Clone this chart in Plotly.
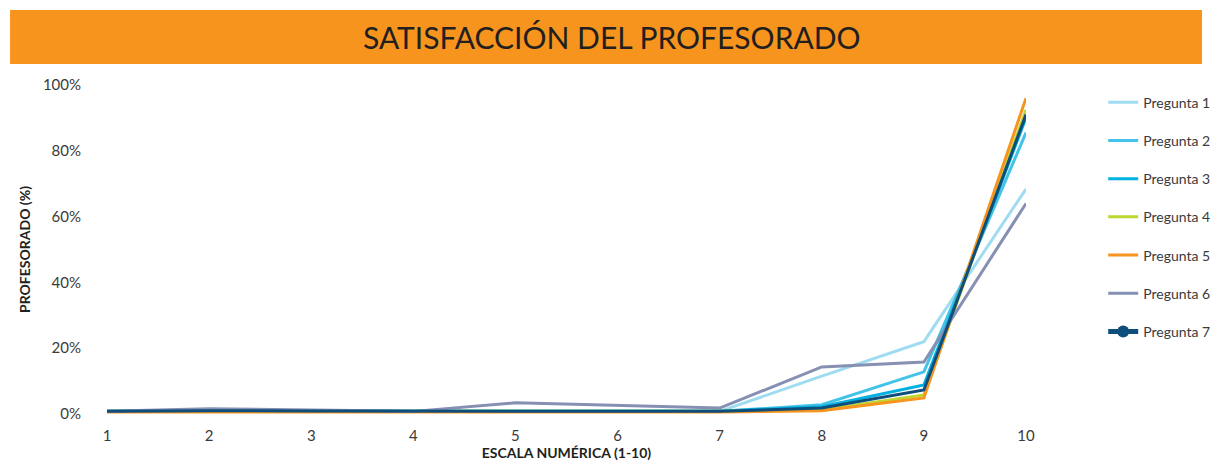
import plotly.graph_objects as go

escala = [1, 2, 3, 4, 5, 6, 7, 8, 9, 10]

pregunta_1 = [0.8, 0.8, 0.8, 0.8, 0.8, 0.8, 0.8, 11.5, 22.0, 68.4]
pregunta_2 = [0.8, 0.8, 0.8, 0.8, 0.8, 0.8, 0.8, 2.8, 12.8, 85.5]
pregunta_3 = [0.8, 0.8, 0.8, 0.8, 0.8, 0.8, 0.8, 2.2, 8.8, 90.0]
pregunta_4 = [0.8, 0.8, 0.8, 0.8, 0.8, 0.8, 0.8, 1.2, 5.8, 92.5]
pregunta_5 = [0.6, 0.6, 0.6, 0.6, 0.6, 0.6, 0.6, 1.0, 4.9, 96.0]
pregunta_6 = [0.8, 1.6, 1.2, 0.8, 3.4, 2.6, 1.8, 14.3, 15.8, 64.0]
pregunta_7 = [0.8, 1.0, 0.9, 0.8, 0.8, 0.8, 0.8, 1.8, 7.3, 91.0]

y_ticks = [0, 20, 40, 60, 80, 100]
y_labels = ["0%", "20%", "40%", "60%", "80%", "100%"]

nombres = ["Pregunta 1", "Pregunta 2", "Pregunta 3", "Pregunta 4",
           "Pregunta 5", "Pregunta 6", "Pregunta 7"]
series = [pregunta_1, pregunta_2, pregunta_3, pregunta_4,
          pregunta_5, pregunta_6, pregunta_7]
colores = ["#9fdcf1", "#43c3e8", "#00b1e1", "#bed630",
           "#f7941e", "#8590b2", "#0d4e7c"]

FONT = "Lato"
GRIS = "#3a3a3a"

fig = go.Figure()
for i, (nombre, vals, col) in enumerate(zip(nombres, series, colores)):
    ultimo = i == len(nombres) - 1
    fig.add_trace(go.Scatter(
        x=escala, y=vals, name=nombre, mode="lines",
        line=dict(color=col, width=3),
        legendgroup="g%d" % i, showlegend=not ultimo,
    ))
    if ultimo:
        # legend entry with the round marker, as in the original
        fig.add_trace(go.Scatter(
            x=[None], y=[None], name=nombre, mode="lines+markers",
            line=dict(color=col, width=5),
            marker=dict(color=col, size=12),
            legendgroup="g%d" % i, showlegend=True,
        ))

# orange title banner
fig.add_shape(type="rect", xref="paper", yref="paper",
              x0=-0.1055, x1=1.1915, y0=1.064, y1=1.228,
              fillcolor="#f7941e", line_width=0, layer="below")
fig.add_annotation(text="SATISFACCIÓN DEL PROFESORADO",
                   xref="paper", yref="paper", x=0.549, y=1.146,
                   showarrow=False, xanchor="center", yanchor="middle",
                   font=dict(family=FONT, size=30, color="#231f20"))

fig.update_layout(
    width=1216, height=464,
    margin=dict(l=107, r=190, t=85, b=50, autoexpand=False),
    paper_bgcolor="white", plot_bgcolor="white",
    font=dict(family=FONT, size=15, color=GRIS),
    legend=dict(x=1.084, y=0.995, xanchor="left", yanchor="top",
                tracegroupgap=17, font=dict(size=14, color=GRIS)),
    xaxis=dict(range=[1, 10], tickvals=escala, showgrid=False,
               zeroline=False, showline=False, automargin=False,
               ticks="outside", ticklen=8, tickcolor="rgba(0,0,0,0)",
               title=dict(text="<b>ESCALA NUMÉRICA (1-10)</b>",
                          font=dict(size=14, color="#231f20"), standoff=4)),
    yaxis=dict(range=[0, 100], tickvals=y_ticks, ticktext=y_labels,
               showgrid=False, zeroline=False, automargin=False,
               showline=False, ticks="outside", ticklen=22,
               tickcolor="rgba(0,0,0,0)",
               title=dict(text="<b>PROFESORADO (%)</b>",
                          font=dict(size=14, color="#231f20"), standoff=8)),
)

fig.write_html("out.html", config={"displayModeBar": False},
               post_script="document.body.style.margin='0';")
